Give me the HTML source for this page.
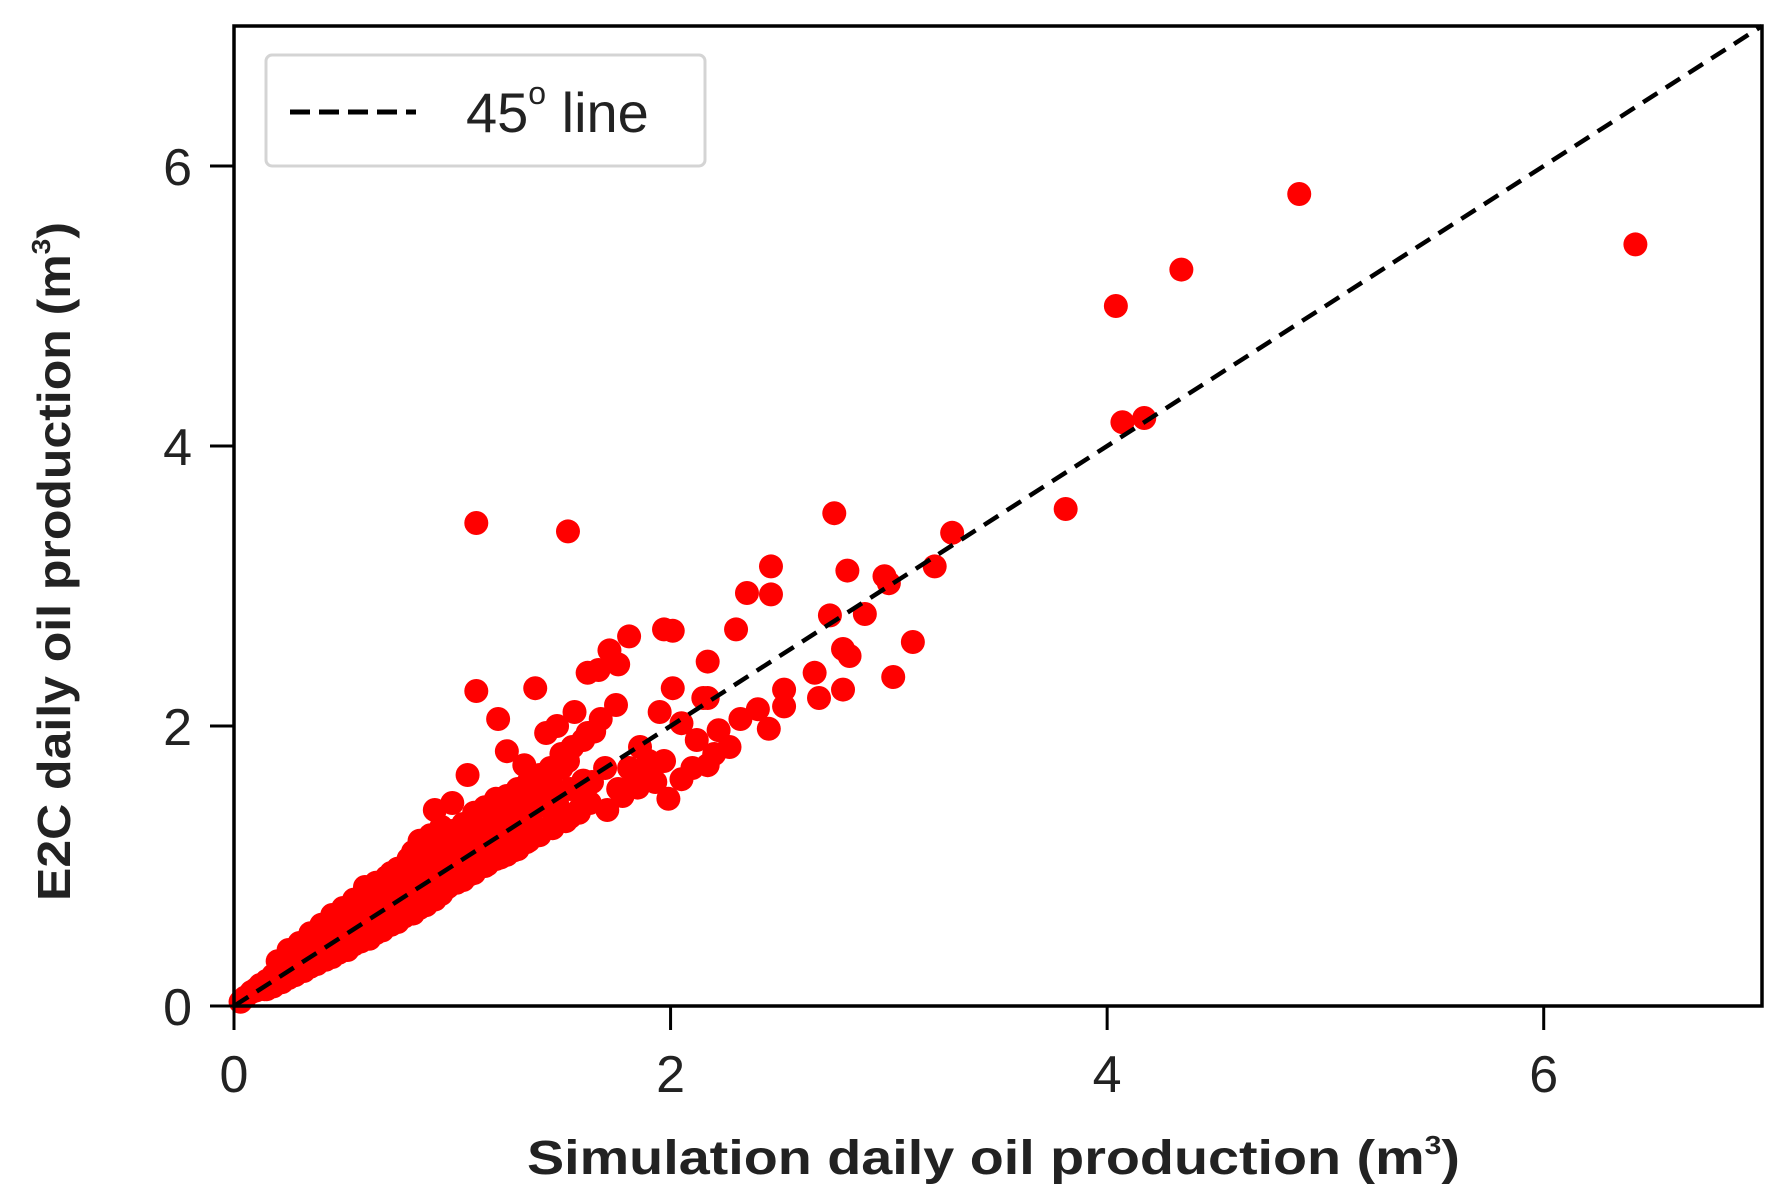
<!DOCTYPE html>
<html><head><meta charset="utf-8"><style>
html,body{margin:0;padding:0;background:#fff;}
svg{display:block;}
text{font-family:"Liberation Sans",Arial,sans-serif;}
</style></head><body>
<svg id="chart" width="1788" height="1204" viewBox="0 0 1788 1204" xmlns="http://www.w3.org/2000/svg">
<g id="plot"></g>
</svg>
<script>
const simX = [4.88,6.42,4.04,4.34,4.07,4.17,3.81,3.29,3.21,2.75,1.11,1.53,2.81,2.46,2.35,2.46,2.98,3.00,3.11,3.02,2.73,2.89,2.82,2.79,2.79,2.66,2.52,2.52,2.68,2.30,2.17,2.01,1.97,1.81,1.72,1.76,1.62,1.67,1.11,1.38,2.01,2.17,2.22,2.12,1.97,1.86,1.81,1.76,1.83,1.91,1.99,2.17,2.27,2.32,2.45,2.40,1.21,1.25,1.33,1.43,1.48,1.56,1.53,1.41,1.48,1.59,1.64,1.70,1.71,1.54,1.07,0.92,1.00,1.05,1.10,1.15,1.20,1.25,1.30,1.35,1.40,1.45,1.50,1.55,1.60,1.65,1.02,0.98,0.95,0.90,0.88,0.85,0.82,0.80,0.78,0.75,0.72,0.70,0.68,0.65,0.62,0.60,0.58,0.55,0.52,0.50,0.48,0.45,0.42,0.40,0.38,0.35,0.32,0.30,0.28,0.25,0.22,0.20,0.18,0.15,0.12,0.10,0.08,0.05,0.03,0.95,0.92,0.88,0.85,0.82,0.78,0.75,0.72,0.68,0.65,0.62,0.58,0.55,0.52,0.48,0.45,0.42,0.38,0.35,0.32,0.28,0.25,0.22,0.18,0.15,1.05,1.10,1.15,1.20,1.25,1.30,1.35,1.08,1.12,1.18,1.22,1.28,1.32,1.38,1.42,1.46,0.90,0.85,0.80,0.75,0.70,0.65,0.60,0.55,0.50,0.45,0.40,0.35,0.30,0.25,0.20,0.62,0.67,0.73,0.78,0.83,0.88,0.93,0.97,1.02,1.08,1.14,1.46,1.52,1.58,1.63,1.78,1.85,1.93,2.05,2.10,2.20,
0.10,0.16,0.22,0.28,0.34,0.40,0.46,0.52,0.58,0.64,0.70,0.76,0.82,0.88,0.94,1.00,1.06,1.12,1.18,1.24,1.30,1.36,1.42,1.48,1.54,1.60,
0.13,0.19,0.25,0.31,0.37,0.43,0.49,0.55,0.61,0.67,0.73,0.79,0.85,0.91,0.97,1.03,1.09,1.15,1.21,1.27,1.33,1.39,1.45,
0.14,0.20,0.26,0.32,0.38,0.44,0.50,0.56,0.62,0.68,0.74,0.80,0.86,0.92,0.98,1.04,1.10,1.16,1.22,1.28,1.34,1.40,1.46,1.52,1.58,
0.60,0.70,0.80,0.86,0.90,0.96,1.00,1.06,1.12,1.18,1.25,1.32,1.40,1.50,1.62,1.68,1.75,1.90,1.95,2.05,2.15];
const e2cY = [5.80,5.44,5.00,5.26,4.17,4.20,3.55,3.38,3.14,3.52,3.45,3.39,3.11,3.14,2.95,2.94,3.07,3.02,2.60,2.35,2.79,2.80,2.50,2.55,2.26,2.38,2.14,2.26,2.20,2.69,2.46,2.68,2.69,2.64,2.54,2.44,2.38,2.40,2.25,2.27,2.27,2.20,1.97,1.90,1.75,1.85,1.70,1.55,1.58,1.65,1.48,1.72,1.85,2.05,1.98,2.12,2.05,1.82,1.72,1.95,2.00,2.10,1.75,1.60,1.45,1.52,1.60,1.70,1.40,1.35,1.65,1.40,1.45,1.30,1.38,1.42,1.48,1.50,1.55,1.60,1.65,1.70,1.80,1.85,1.90,1.96,1.20,1.25,1.28,1.22,1.15,1.18,1.10,1.05,1.00,0.98,0.95,0.92,0.88,0.82,0.80,0.76,0.72,0.70,0.66,0.62,0.60,0.56,0.52,0.50,0.46,0.44,0.40,0.36,0.34,0.30,0.27,0.24,0.22,0.18,0.15,0.12,0.10,0.06,0.03,0.80,0.76,0.72,0.70,0.66,0.64,0.60,0.58,0.54,0.52,0.48,0.46,0.44,0.40,0.38,0.35,0.33,0.30,0.28,0.25,0.22,0.20,0.17,0.14,0.12,0.90,0.95,1.00,1.05,1.08,1.12,1.18,1.00,1.02,1.05,1.10,1.14,1.20,1.22,1.26,1.30,1.12,1.08,1.02,0.98,0.92,0.88,0.82,0.76,0.70,0.65,0.58,0.52,0.45,0.40,0.32,0.50,0.55,0.60,0.64,0.70,0.74,0.80,0.84,0.88,0.94,1.00,1.30,1.35,1.40,1.45,1.50,1.56,1.60,1.62,1.70,1.80,
0.11,0.17,0.23,0.29,0.35,0.41,0.47,0.53,0.59,0.65,0.71,0.77,0.83,0.89,0.95,1.01,1.07,1.13,1.19,1.25,1.31,1.37,1.43,1.49,1.55,1.61,
0.15,0.22,0.29,0.36,0.42,0.49,0.56,0.63,0.70,0.77,0.83,0.90,0.97,1.04,1.10,1.17,1.23,1.30,1.36,1.43,1.50,1.56,1.63,
0.12,0.17,0.22,0.27,0.32,0.38,0.43,0.48,0.54,0.59,0.64,0.69,0.75,0.80,0.85,0.90,0.96,1.01,1.06,1.11,1.17,1.22,1.27,1.32,1.38,
0.85,0.92,1.05,1.00,1.15,1.10,1.25,1.20,1.30,1.40,1.45,1.55,1.62,1.70,1.95,2.05,2.15,1.75,2.10,2.02,2.20];
const xTicks = [0,2,4,6];
const yTicks = [0,2,4,6];
const xMin=0,xMax=7,yMin=0,yMax=7;
const L=234,R=1762,T=26,B=1006;
const sx=v=>L+(v-xMin)/(xMax-xMin)*(R-L);
const sy=v=>B-(v-yMin)/(yMax-yMin)*(B-T);
const NS='http://www.w3.org/2000/svg';
const g=document.getElementById('plot');
function mk(tag,attrs,parent){const e=document.createElementNS(NS,tag);for(const k in attrs)e.setAttribute(k,attrs[k]);(parent||g).appendChild(e);return e;}
const pts=mk('g',{});


for(let i=0;i<simX.length;i++){
  const c=mk('circle',{cx:sx(simX[i]),cy:sy(e2cY[i]),r:12,fill:'#ff0000'},pts);
  
  
}
const line=mk('line',{x1:sx(0),y1:sy(0),x2:sx(7),y2:sy(7),stroke:'#000','stroke-width':4.5,'stroke-dasharray':'17,10'});


const frame=mk('rect',{x:L,y:T,width:R-L,height:B-T,fill:'none',stroke:'#000','stroke-width':3.5});


xTicks.forEach(v=>{
  const t=mk('line',{x1:sx(v),y1:B,x2:sx(v),y2:B+24,stroke:'#000','stroke-width':3});
  
  
  const lb=mk('text',{x:sx(v),y:B+86,'font-size':52,'text-anchor':'middle',fill:'#222'});
  lb.textContent=v;
  
  
});
yTicks.forEach(v=>{
  const t=mk('line',{x1:L-24,y1:sy(v),x2:L,y2:sy(v),stroke:'#000','stroke-width':3});
  
  
  const lb=mk('text',{x:L-42,y:sy(v)+19,'font-size':52,'text-anchor':'end',fill:'#222'});
  lb.textContent=v;
  
  
});
</script>
<svg style="position:absolute;left:0;top:0" width="1788" height="1204" xmlns="http://www.w3.org/2000/svg">
<g>
<rect x="266" y="55" width="439" height="111" rx="6" fill="#fff" stroke="#d4d4d4" stroke-width="3"/>
<line x1="290" y1="112" x2="416" y2="112" stroke="#000" stroke-width="5" stroke-dasharray="20,9"/>
<text x="466" y="132" font-size="56" fill="#222" font-family="Liberation Sans, sans-serif">45<tspan font-size="32" dy="-28">o</tspan><tspan dy="28"> line</tspan></text>
</g>
<text x="527" y="1174" font-size="48" font-weight="bold" fill="#222" textLength="933" lengthAdjust="spacingAndGlyphs" font-family="Liberation Sans, sans-serif">Simulation daily oil production (m<tspan font-size="26" dy="-20">3</tspan><tspan dy="20">)</tspan></text>
<text transform="translate(70,901) rotate(-90)" font-size="46" font-weight="bold" fill="#222" textLength="679" lengthAdjust="spacingAndGlyphs" font-family="Liberation Sans, sans-serif">E2C daily oil production (m<tspan font-size="26" dy="-20">3</tspan><tspan dy="20">)</tspan></text>
</svg>
</body></html>
